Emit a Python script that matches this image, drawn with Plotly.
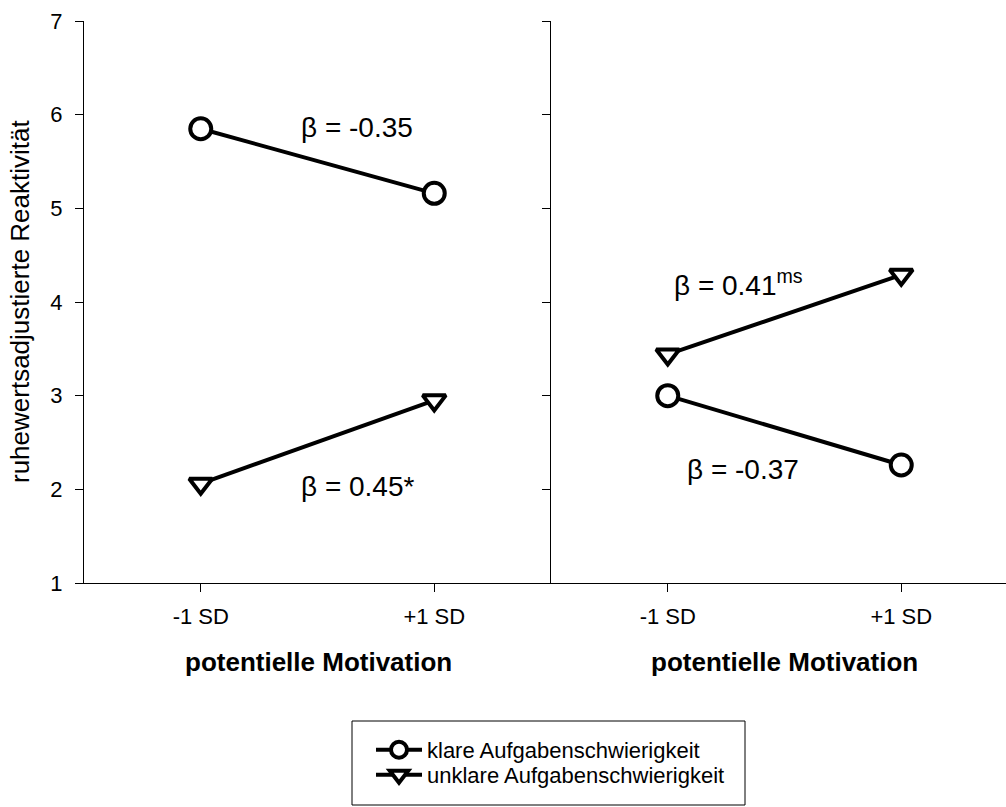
import plotly.graph_objects as go

categories = ["-1 SD", "+1 SD"]
left_klar = [5.85, 5.16]
left_unklar = [2.06, 2.95]
right_klar = [3.00, 2.26]
right_unklar = [3.44, 4.29]
series_names = ["klare Aufgabenschwierigkeit", "unklare Aufgabenschwierigkeit"]
y_ticks = [1, 2, 3, 4, 5, 6, 7]
x_title = "potentielle Motivation"
y_title = "ruhewertsadjustierte Reaktivität"
betas_left = ["β = -0.35", "β = 0.45*"]
betas_right = ["β = 0.41<sup>ms</sup>", "β = -0.37"]

FONT = "Liberation Sans, Arial, sans-serif"
W, H = 1006, 807
L, R, T, B = 84, 0, 21, 224
pw = W - L - R
ph = H - T - B
split = (551 - L) / pw


def py(pix):
    """pixel row -> paper y"""
    return (T + ph - pix) / ph


def px(pix):
    """pixel column -> paper x"""
    return (pix - L) / pw


fig = go.Figure()
common_line = dict(color="black", width=4)
circ = dict(symbol="circle", size=21, color="white", line=dict(width=4, color="black"))
tri = dict(symbol="triangle-down", size=20, color="white", line=dict(width=4, color="black"))

fig.add_trace(go.Scatter(x=categories, y=left_klar, mode="lines+markers", name=series_names[0],
                         line=common_line, marker=circ, xaxis="x", yaxis="y",
                         showlegend=True, legend="legend"))
fig.add_trace(go.Scatter(x=categories, y=left_unklar, mode="lines+markers", name=series_names[1],
                         line=common_line, marker=tri, xaxis="x", yaxis="y",
                         showlegend=True, legend="legend2"))
fig.add_trace(go.Scatter(x=categories, y=right_klar, mode="lines+markers", name=series_names[0],
                         line=common_line, marker=circ, xaxis="x2", yaxis="y2", showlegend=False))
fig.add_trace(go.Scatter(x=categories, y=right_unklar, mode="lines+markers", name=series_names[1],
                         line=common_line, marker=tri, xaxis="x2", yaxis="y2", showlegend=False))

tickfont = dict(family=FONT, size=22, color="black")
axis_common = dict(showline=True, linecolor="black", linewidth=1, ticks="outside", ticklen=8,
                   tickcolor="black", tickwidth=1, showgrid=False, zeroline=False, tickfont=tickfont)

visible_units = (W - 551) / (467 / 2.0)

leg_common = dict(x=px(371), xanchor="left", yanchor="middle",
                  font=dict(family=FONT, size=22, color="black"), bgcolor="rgba(0,0,0,0)",
                  borderwidth=0, itemwidth=46)

fig.update_layout(
    width=W, height=H,
    margin=dict(l=L, r=R, t=T, b=B, pad=0),
    plot_bgcolor="white", paper_bgcolor="white",
    font=dict(family=FONT, color="black"),
    xaxis=dict(domain=[0, split], type="category", range=[-0.5, 1.5], anchor="y",
               ticklabelstandoff=6, **axis_common),
    yaxis=dict(domain=[0, 1], range=[1, 7], tickvals=y_ticks, anchor="x", ticklabelstandoff=8, **axis_common),
    xaxis2=dict(domain=[split, 1], type="category", range=[-0.5, -0.5 + visible_units], anchor="y2",
                ticklabelstandoff=6, **axis_common),
    yaxis2=dict(domain=[0, 1], range=[1, 7], tickvals=y_ticks, anchor="x2", showticklabels=False, **axis_common),
    legend=dict(y=py(750), **leg_common),
    legend2=dict(y=py(775), **leg_common),
)

# legend box
fig.add_shape(type="rect", xref="paper", yref="paper",
              x0=px(352), x1=px(745), y0=py(805), y1=py(721),
              line=dict(color="black", width=1), fillcolor="rgba(0,0,0,0)")

# axis titles
title_font = dict(family=FONT, size=26, color="black")
fig.add_annotation(text=f"<b>{x_title}</b>", xref="paper", yref="paper",
                   x=px(318), y=py(662), showarrow=False,
                   xanchor="center", yanchor="middle", font=title_font)
fig.add_annotation(text=f"<b>{x_title}</b>", xref="paper", yref="paper",
                   x=px(784), y=py(662), showarrow=False,
                   xanchor="center", yanchor="middle", font=title_font)
fig.add_annotation(text=y_title, xref="paper", yref="paper",
                   x=px(20), y=0.5, showarrow=False, textangle=-90,
                   xanchor="center", yanchor="middle", font=title_font)

ann_font = dict(family=FONT, size=28, color="black")
fig.add_annotation(text=betas_left[0], xref="x", yref="y", x=0.669, y=5.86,
                   showarrow=False, font=ann_font)
fig.add_annotation(text=betas_left[1], xref="x", yref="y", x=0.673, y=2.03,
                   showarrow=False, font=ann_font)
fig.add_annotation(text=betas_right[0], xref="x2", yref="y2", x=0.305, y=4.20,
                   showarrow=False, font=ann_font)
fig.add_annotation(text=betas_right[1], xref="x2", yref="y2", x=0.322, y=2.21,
                   showarrow=False, font=ann_font)

fig.write_html("out.html", config={"displayModeBar": False},
               post_script="document.body.style.margin='0';document.body.style.padding='0';")
